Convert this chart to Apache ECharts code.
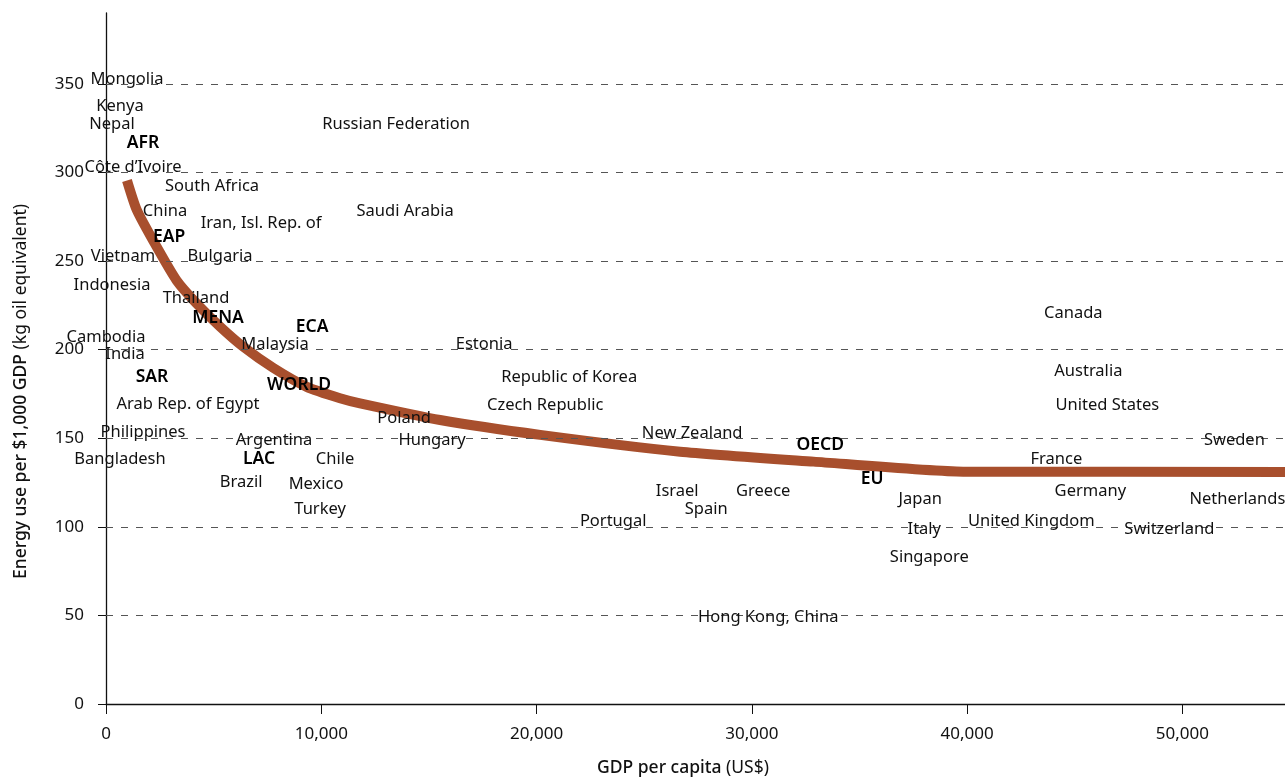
<!DOCTYPE html>
<html>
<head>
<meta charset="utf-8">
<script src="https://cdn.jsdelivr.net/npm/echarts@6/dist/echarts.min.js"></script>
<style>html,body{margin:0;padding:0;background:#fff}#c{width:1285px;height:778px}</style>
</head>
<body>
<div id="c"></div>
<script>
// Trend curve (GDP per capita, energy use)
const curveX = [975, 1425, 2356, 3285, 4214, 5297, 6370, 7770, 9325, 10870, 11800, 15520, 20170, 26670, 32870, 39820, 55000];
const curveY = [295.5, 279, 258, 239, 226, 213, 201.7, 189.7, 179, 172.6, 169.7, 160.3, 151.9, 142.4, 136.8, 131.1, 131];

// Country labels
const countryNames = ["Mongolia","Kenya","Nepal","Côte d’Ivoire","South Africa","China","Iran, Isl. Rep. of","Vietnam","Bulgaria","Indonesia","Thailand","Cambodia","Malaysia","India","Estonia","Republic of Korea","Arab Rep. of Egypt","Czech Republic","Poland","Philippines","Argentina","Hungary","New Zealand","Sweden","Bangladesh","Chile","France","Brazil","Mexico","Israel","Greece","Germany","Netherlands","Japan","Turkey","Spain","Portugal","United Kingdom","Italy","Switzerland","Singapore","Hong Kong, China","Russian Federation","Saudi Arabia","Canada","Australia","United States"];
const countryGdp = [976,651,279,1255,4926,2742,7203,790,5297,279,4182,0,7853,883,17565,21515,3810,20400,13848,1719,7807,15149,27230,52416,651,10641,44145,6273,9758,26533,30530,45725,52556,37825,9944,27881,23560,42983,38011,49396,38243,30762,13476,13894,44935,45632,46515];
const countryEnergy = [353.4,338.1,328,303.7,293,278.9,272.1,253.5,253.5,237.1,229.8,207.7,203.8,198.1,203.8,185.2,169.9,169.4,162,154.1,149.6,149.6,153.6,149.6,138.9,138.9,138.9,125.9,124.8,120.8,120.8,120.8,116.3,116.3,110.6,110.6,103.9,103.9,99.4,99.4,83.5,49.7,328,278.9,221.3,188.5,169.4];

// Regional aggregates
const regionNames = ["AFR","EAP","MENA","ECA","SAR","WORLD","OECD","LAC","EU"];
const regionGdp = [1719,2928,5204,9572,2138,8968,33178,7110,35595];
const regionEnergy = [317.3,264.2,218.5,213.4,185.2,180.6,146.8,138.9,127.6];

// Axis ticks
const yTicks = [0,50,100,150,200,250,300,350];
const xTicks = [0,10000,20000,30000,40000,50000];
const gridTicks = [50,100,150,200,250,300,350];

const FONT = 'Noto Sans';
const TXT = '#111';

const chart = echarts.init(document.getElementById('c'), null, {renderer:'canvas'});

const countryData = countryNames.map((n,i)=>({name:n, value:[countryGdp[i], countryEnergy[i]]}));
const regionData = regionNames.map((n,i)=>({name:n, value:[regionGdp[i], regionEnergy[i]]}));

chart.setOption({
  animation:false,
  backgroundColor:'#fff',
  grid:{left:106, top:13, width:1184, height:691, containLabel:false, outerBoundsMode:'none'},
  xAxis:{
    type:'value', min:0, max:55000, interval:10000,
    name:'{b|GDP per capita} (US$)',
    nameLocation:'middle', nameGap:55,
    nameTextStyle:{fontFamily:FONT, fontSize:17.5, color:TXT, padding:[0,30,0,0],
      rich:{b:{fontFamily:FONT, fontSize:17.5, fontWeight:500, color:TXT}}},
    axisLine:{show:true, lineStyle:{color:'#111', width:1.3}},
    axisTick:{show:true, length:10, lineStyle:{color:'#111'}, customValues:xTicks},
    axisLabel:{fontFamily:FONT, fontSize:17, color:TXT, margin:22, customValues:xTicks},
    splitLine:{show:false}
  },
  yAxis:{
    type:'value', min:0, max:390, interval:50,
    name:'{b|Energy use per $1,000 GDP} (kg oil equivalent)',
    nameLocation:'middle', nameGap:76, nameRotate:90,
    nameTextStyle:{fontFamily:FONT, fontSize:17.5, color:TXT, padding:[0,66,0,0],
      rich:{b:{fontFamily:FONT, fontSize:17.5, fontWeight:500, color:TXT}}},
    axisLine:{show:true, lineStyle:{color:'#111', width:1.3}},
    axisTick:{show:true, length:8, lineStyle:{color:'#111'}, customValues:yTicks},
    axisLabel:{fontFamily:FONT, fontSize:17, color:TXT, margin:22, customValues:yTicks},
    splitLine:{show:false}
  },
  series:[
    {
      type:'line', data:curveX.map((x,i)=>[x,curveY[i]]),
      showSymbol:false, symbol:'none', smooth:0.2,
      lineStyle:{color:'#A84F2D', width:10, cap:'butt', join:'round'},
      z:3,
      markLine:{
        silent:true, symbol:'none', animation:false,
        label:{show:false},
        lineStyle:{color:'#555', width:1, type:[7,8]},
        data:gridTicks.map(v=>({yAxis:v}))
      }
    },
    {
      type:'scatter', data:countryData, symbolSize:1, clip:false,
      itemStyle:{color:'rgba(0,0,0,0)', opacity:1}, z:5,
      label:{show:true, position:'inside', offset:[0,1], formatter:'{b}', fontFamily:FONT, fontSize:16.5, color:TXT, opacity:1}
    },
    {
      type:'scatter', data:regionData, symbolSize:1, clip:false,
      itemStyle:{color:'rgba(0,0,0,0)', opacity:1}, z:5,
      label:{show:true, position:'inside', offset:[0,1], formatter:'{b}', fontFamily:FONT, fontSize:17.5, fontWeight:600, color:'#000', opacity:1}
    }
  ]
});
</script>
</body>
</html>
